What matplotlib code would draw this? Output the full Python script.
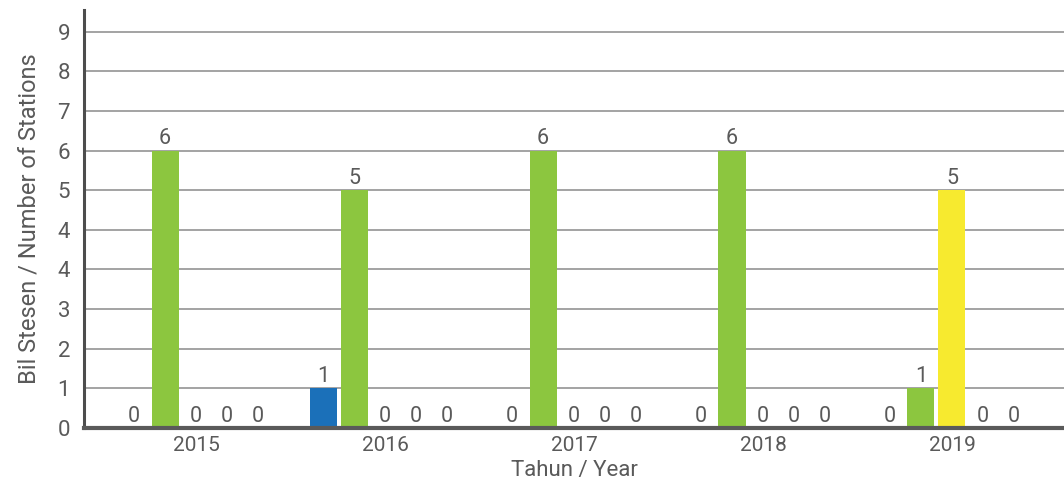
import numpy as np
import matplotlib.pyplot as plt

plt.rcParams['font.family'] = ['Roboto', 'DejaVu Sans']

years = ['2015', '2016', '2017', '2018', '2019']
# stations per class for each year
blue   = [0, 1, 0, 0, 0]
green  = [6, 5, 6, 6, 1]
yellow = [0, 0, 0, 0, 5]
orange = [0, 0, 0, 0, 0]
red    = [0, 0, 0, 0, 0]

# y axis labels as printed on the gridlines (note the repeated 4)
ytick_labels = ['0', '1', '2', '3', '4', '4', '5', '6', '7', '8', '9']

series = [blue, green, yellow, orange, red]
colors = ['#1b70b9', '#8cc63f', '#f7ea2f', '#f7941d', '#e2231a']

# map a value onto the gridline that carries its label
lab_vals = np.array([float(s) for s in ytick_labels])
lab_pos = np.arange(len(ytick_labels))
def ypos(v):
    return lab_pos[lab_vals == v].max() if v in lab_vals else np.interp(v, lab_vals, lab_pos)

txt = '#5a5a5a'
fig = plt.figure(figsize=(10.64, 4.87), dpi=100)
ax = fig.add_axes([0.079, 0.121, 0.921, 0.858])

x = np.arange(len(years))
step = 0.164
width = 0.143
for i, (vals, c) in enumerate(zip(series, colors)):
    xs = x + (i - 2) * step
    h = [ypos(v) for v in vals]
    ax.bar(xs, h, width=width, color=c, zorder=3)
    for xx, hh, v in zip(xs, h, vals):
        ax.annotate(str(v), (xx, hh), xytext=(0, 1), textcoords='offset points',
                    ha='center', va='bottom', fontsize=15.5, color=txt, zorder=4)

ax.set_xlim(-0.593, 4.593)
ax.set_ylim(0, 10.54)
ax.set_yticks(lab_pos)
ax.set_yticklabels(ytick_labels)
ax.set_xticks(x)
ax.set_xticklabels(years)
ax.tick_params(axis='both', length=0, labelcolor=txt)
ax.tick_params(axis='x', pad=6, labelsize=15)
ax.tick_params(axis='y', pad=10, labelsize=16)
ax.grid(axis='y', color='#8a8a8a', linewidth=1.1, zorder=0)

for s in ['top', 'right']:
    ax.spines[s].set_visible(False)
ax.spines['left'].set_color('#4d4d4d')
ax.spines['left'].set_linewidth(2.2)
ax.spines['bottom'].set_color('#5a5a5a')
ax.spines['bottom'].set_linewidth(3)
ax.spines['bottom'].set_zorder(5)

ax.set_xlabel('Tahun / Year', fontsize=16, color=txt, labelpad=3)
ax.set_ylabel('Bil Stesen / Number of Stations', fontsize=17, color=txt, labelpad=12)

fig.savefig('out.png', dpi=100)
